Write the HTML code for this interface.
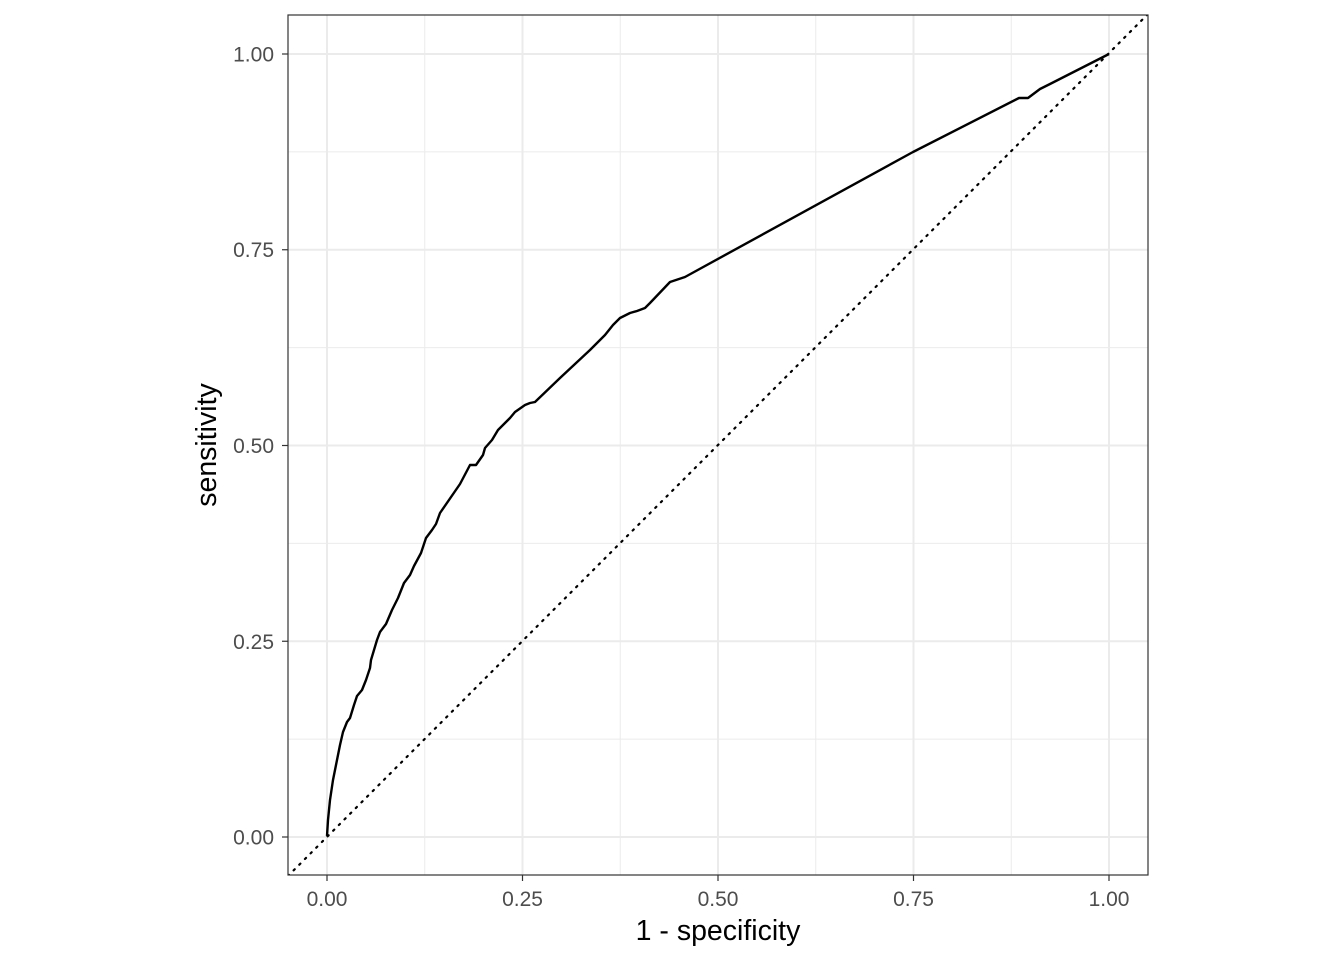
<!DOCTYPE html>
<html><head><style>body{margin:0;background:#fff}</style></head><body>
<svg width="1344" height="960" xmlns="http://www.w3.org/2000/svg" font-family="Liberation Sans, sans-serif">
<rect width="1344" height="960" fill="#fff"/>
<defs><clipPath id="c"><rect x="288" y="15" width="860" height="860"/></clipPath></defs>
<g stroke="#ebebeb" stroke-width="1">
<line x1="424.75" y1="15" x2="424.75" y2="875"/><line x1="620.25" y1="15" x2="620.25" y2="875"/><line x1="815.75" y1="15" x2="815.75" y2="875"/><line x1="1011.25" y1="15" x2="1011.25" y2="875"/>
<line x1="288" y1="151.9" x2="1148" y2="151.9"/><line x1="288" y1="347.6" x2="1148" y2="347.6"/><line x1="288" y1="543.4" x2="1148" y2="543.4"/><line x1="288" y1="739.1" x2="1148" y2="739.1"/>
</g>
<g stroke="#ebebeb" stroke-width="2">
<line x1="327" y1="15" x2="327" y2="875"/><line x1="522.5" y1="15" x2="522.5" y2="875"/><line x1="718" y1="15" x2="718" y2="875"/><line x1="913.5" y1="15" x2="913.5" y2="875"/><line x1="1109" y1="15" x2="1109" y2="875"/>
<line x1="288" y1="54" x2="1148" y2="54"/><line x1="288" y1="249.75" x2="1148" y2="249.75"/><line x1="288" y1="445.5" x2="1148" y2="445.5"/><line x1="288" y1="641.25" x2="1148" y2="641.25"/><line x1="288" y1="837" x2="1148" y2="837"/>
</g>
<g clip-path="url(#c)">
<line x1="288" y1="876" x2="1148" y2="14" stroke="#000" stroke-width="2.2" stroke-dasharray="1.5 6.5" stroke-linecap="round"/>
<polyline fill="none" stroke="#000" stroke-width="2.4" stroke-linejoin="round" points="327,836 328,820 330,800 333,780 336,765 340,745 343,732 347,722 350,718 354,705 357,696 362,690 366,680 370,668 371,660 374,650 377,640 380,632 386,624 392,610 398,598 404,583 410,575 414,566 421,553 426,538 432,530 436,524 440,513 460,484 470,465 476,465 483,455 485,448 492,440 498,430 500,428 510,418 515,412 525,405 530,403 535,402 560,378 590,350 605,335 613,325 620,318 630,313 637,311 645,308 650,303 670,282 685,277 913,152 1019,98 1028,98 1040,89 1050,84 1109,54"/>
</g>
<rect x="288" y="15" width="860" height="860" fill="none" stroke="#333" stroke-width="1.2"/>
<g stroke="#333" stroke-width="1.2">
<line x1="282" y1="54" x2="288" y2="54"/><line x1="282" y1="249.75" x2="288" y2="249.75"/><line x1="282" y1="445.5" x2="288" y2="445.5"/><line x1="282" y1="641.25" x2="288" y2="641.25"/><line x1="282" y1="837" x2="288" y2="837"/>
<line x1="327" y1="875" x2="327" y2="881"/><line x1="522.5" y1="875" x2="522.5" y2="881"/><line x1="718" y1="875" x2="718" y2="881"/><line x1="913.5" y1="875" x2="913.5" y2="881"/><line x1="1109" y1="875" x2="1109" y2="881"/>
</g>
<g fill="#4d4d4d" font-size="21px" text-anchor="end">
<text x="274" y="61.5">1.00</text><text x="274" y="257">0.75</text><text x="274" y="453">0.50</text><text x="274" y="649">0.25</text><text x="274" y="844.5">0.00</text>
</g>
<g fill="#4d4d4d" font-size="21px" text-anchor="middle">
<text x="327" y="906">0.00</text><text x="522.5" y="906">0.25</text><text x="718" y="906">0.50</text><text x="913.5" y="906">0.75</text><text x="1109" y="906">1.00</text>
</g>
<text x="718" y="940" font-size="28.5px" text-anchor="middle">1 - specificity</text>
<text transform="translate(216,445) rotate(-90)" font-size="28.5px" text-anchor="middle">sensitivity</text>
</svg>
</body></html>
